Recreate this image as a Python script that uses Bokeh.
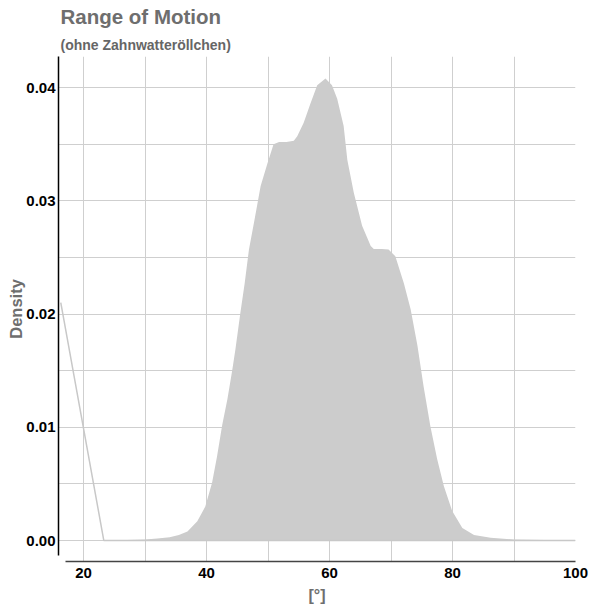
from bokeh.plotting import figure
from bokeh.models import FixedTicker, Title, NumeralTickFormatter, Spacer
from bokeh.layouts import row
from bokeh.embed import file_html
from bokeh.resources import INLINE

# Density curve
dens_x = [24, 30, 32, 34, 35.5, 36.9, 38.5, 39.8, 40.9, 41.7, 42.55, 43.4, 44.2, 44.7,
          45.5, 46.2, 46.9, 48.1, 48.8, 49.9, 50.9, 51.8, 53.0, 54.2, 54.75, 55.8,
          56.9, 58.0, 59.35, 60.4, 61.25, 62.3, 62.9, 63.95, 65.3, 66.7, 67.2, 68.5,
          69.6, 70.7, 72.1, 73.2, 74.3, 75.3, 76.4, 77.5, 78.6, 79.95, 81.6, 83.5,
          86.2, 90, 100]
dens_y = [0.0, 0.0001, 0.00018, 0.0003, 0.0005, 0.0008, 0.0017, 0.003, 0.0051, 0.0074,
          0.0102, 0.0125, 0.0151, 0.0169, 0.0201, 0.0227, 0.0257, 0.0292, 0.0313,
          0.0333, 0.0350, 0.0352, 0.0352, 0.0353, 0.0357, 0.0369, 0.0386, 0.0402,
          0.0408, 0.0402, 0.0390, 0.0366, 0.0336, 0.0307, 0.0278, 0.0260, 0.02575,
          0.02575, 0.0257, 0.0251, 0.0227, 0.0204, 0.0172, 0.0136, 0.0101, 0.0072,
          0.0048, 0.0026, 0.0011, 0.0005, 0.00024, 0.0001, 0.0]

# second (outline) series near the left edge
line_x = [16.3, 23.3, 100]
line_y = [0.021, 0.0, 0.0]

x_ticks = [20, 40, 60, 80, 100]
x_minor = [30, 50, 70, 90]
y_ticks = [0.0, 0.01, 0.02, 0.03, 0.04]
y_minor = [0.005, 0.015, 0.025, 0.035]

FONT = "Liberation Sans"

p = figure(frame_width=517, frame_height=505,
           x_range=(15.93, 100), y_range=(-0.00185, 0.04274),
           output_backend="svg", toolbar_location=None, title=None,
           min_border_left=40, min_border_right=20, min_border_top=10, min_border_bottom=10)
p.outline_line_color = None
p.background_fill_color = "white"

p.add_layout(Title(text="(ohne Zahnwatteröllchen)", text_font=FONT, text_font_size="14px",
                   text_font_style="bold", text_color="#666666", offset=2, standoff=8), "above")
p.add_layout(Title(text="Range of Motion", text_font=FONT, text_font_size="20.5px",
                   text_font_style="bold", text_color="#6e6e6e", offset=2, standoff=5), "above")

p.varea(x=dens_x, y1=[0] * len(dens_x), y2=dens_y, fill_color="#cccccc")
p.line(x=line_x, y=line_y, line_color="#c8c8c8", line_width=1.5)

p.xaxis.ticker = FixedTicker(ticks=x_ticks, minor_ticks=x_minor)
p.yaxis.ticker = FixedTicker(ticks=y_ticks, minor_ticks=y_minor)
p.yaxis.formatter = NumeralTickFormatter(format="0.00")

for g in (p.xgrid, p.ygrid):
    g.grid_line_color = "#cfcfcf"
    g.grid_line_width = 1
    g.minor_grid_line_color = "#cfcfcf"
    g.minor_grid_line_width = 1

for ax in (p.xaxis, p.yaxis):
    ax.major_tick_line_color = None
    ax.minor_tick_line_color = None
    ax.major_label_text_font = FONT
    ax.major_label_text_font_size = "15px"
    ax.major_label_text_font_style = "bold"
    ax.major_label_text_color = "black"
    ax.axis_label_text_font = FONT
    ax.axis_label_text_font_style = "bold"
    ax.axis_label_text_color = "#6e6e6e"

p.xaxis.axis_label = "[°]"
p.xaxis.axis_label_text_font_size = "16px"
p.xaxis.axis_line_color = "#444444"
p.xaxis.axis_line_width = 1.5
p.xaxis.bounds = (17, 100)
p.xaxis.major_label_standoff = 0
p.xaxis.axis_label_standoff = 6

p.yaxis.axis_label = "Density"
p.yaxis.axis_label_text_font_size = "16.5px"
p.yaxis.axis_line_color = "black"
p.yaxis.axis_line_width = 1.5
p.yaxis.bounds = (-0.00135, 0.0427)
p.yaxis.major_label_standoff = -3
p.yaxis.axis_label_standoff = -2

layout = row(Spacer(width=4, height=10), p)
open("out.html", "w").write(file_html(layout, INLINE))
